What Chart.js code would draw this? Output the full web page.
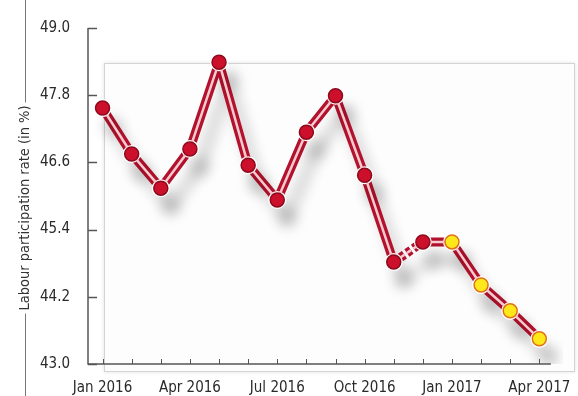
<!DOCTYPE html>
<html>
<head>
<meta charset="utf-8">
<script src="https://cdn.jsdelivr.net/npm/chart.js@4"></script>
<style>
  html, body { margin: 0; padding: 0; background: #fff; }
  #wrap { width: 578px; height: 396px; }
</style>
</head>
<body>
<div id="wrap"><canvas id="chart" width="578" height="396"></canvas></div>
<script>
const months = ["Jan 2016", "Feb 2016", "Mar 2016", "Apr 2016", "May 2016", "Jun 2016", "Jul 2016", "Aug 2016",
    "Sep 2016", "Oct 2016", "Nov 2016", "Dec 2016", "Jan 2017", "Feb 2017", "Mar 2017", "Apr 2017"];
const participation = [47.57, 46.75, 46.14, 46.84, 48.39, 46.55, 45.93, 47.14,
    47.79, 46.37, 44.82, 45.18, 45.18, 44.41, 43.95, 43.45];
const forecastFrom = 12; // Jan 2017 onwards drawn yellow
const yTicks = [43.0, 44.2, 45.4, 46.6, 47.8, 49.0];
const yTitle = "Labour participation rate (in %)";

const FONT = "'DejaVu Sans Condensed', 'DejaVu Sans', sans-serif";

// dashed piece between Nov and Dec 2016
const dashed = ctx => ctx.p0DataIndex === 10 ? [5, 3] : undefined;

const decor = {
    id: 'decor',
    beforeDraw(chart) {
        const c = chart.ctx;
        c.save();
        // light panel behind the plot
        c.shadowColor = 'rgba(0,0,0,0.12)';
        c.shadowBlur = 4;
        c.fillStyle = '#fdfdfd';
        c.fillRect(104, 63, 471, 309);
        c.shadowColor = 'transparent';
        c.strokeStyle = '#d4d4d4';
        c.lineWidth = 1;
        c.strokeRect(104.5, 63.5, 470, 308);
        // long vertical rule behind the title
        c.strokeStyle = '#777';
        c.beginPath();
        c.moveTo(25.5, 0);
        c.lineTo(25.5, 396);
        c.stroke();
        c.restore();
    },
    beforeDatasetDraw(chart, args) {
        if (args.index === 2) {
            const c = chart.ctx;
            c.save();
            c.shadowColor = 'rgba(0,0,0,0.2)';
            c.shadowBlur = 14;
            c.shadowOffsetX = 10;
            c.shadowOffsetY = 18;
        }
    },
    afterDatasetDraw(chart, args) {
        if (args.index === 2) chart.ctx.restore();
    },
    afterDraw(chart) {
        const c = chart.ctx;
        const y = chart.scales.y, x = chart.scales.x;
        const a = chart.chartArea;
        c.save();
        c.strokeStyle = '#555';
        c.lineWidth = 1.5;
        // axes lines
        c.beginPath();
        c.moveTo(a.left, a.top);
        c.lineTo(a.left, a.bottom);
        c.lineTo(a.right - 3, a.bottom);
        c.stroke();
        // y ticks pointing inward
        yTicks.forEach(v => {
            const py = Math.round(y.getPixelForValue(v)) + 0.5;
            c.beginPath();
            c.moveTo(a.left, py);
            c.lineTo(a.left + 9, py);
            c.stroke();
        });
        // small month ticks on x axis
        c.lineWidth = 1;
        months.forEach((m, i) => {
            const px = Math.round(x.getPixelForValue(i)) + 0.5;
            c.beginPath();
            c.moveTo(px, a.bottom);
            c.lineTo(px, a.bottom - 5);
            c.stroke();
        });
        // title over the vertical rule
        c.translate(25, 208);
        c.rotate(-Math.PI / 2);
        c.font = 'normal condensed 14.5px ' + FONT;
        const w = c.measureText(yTitle).width;
        c.fillStyle = '#fff';
        c.fillRect(-w / 2 - 3, -8, w + 6, 16);
        c.fillStyle = '#333';
        c.textAlign = 'center';
        c.textBaseline = 'middle';
        c.fillText(yTitle, 0, 0);
        c.restore();
    }
};

new Chart(document.getElementById('chart'), {
    type: 'line',
    data: {
        labels: months,
        datasets: [
            {
                data: participation,
                order: 0,
                showLine: false,
                pointRadius: 7,
                pointBorderWidth: 1.5,
                pointBackgroundColor: ctx => ctx.dataIndex >= forecastFrom ? '#ffe81a' : '#cc0f2a',
                pointBorderColor: ctx => ctx.dataIndex >= forecastFrom ? '#e0701a' : '#8c0a1c'
            },
            {
                data: participation,
                order: 1,
                borderColor: '#f7c9d0',
                borderWidth: 2.5,
                borderJoinStyle: 'round',
                pointRadius: 0,
                tension: 0,
                segment: { borderDash: dashed }
            },
            {
                data: participation,
                order: 2,
                borderColor: '#b3122c',
                borderWidth: 9,
                borderJoinStyle: 'round',
                pointRadius: 9,
                pointBackgroundColor: '#fff',
                pointBorderWidth: 0,
                tension: 0,
                segment: { borderDash: dashed }
            }
        ]
    },
    options: {
        responsive: false,
        animation: false,
        layout: { padding: { top: 28, right: 22, left: 0, bottom: 0 } },
        plugins: { legend: { display: false }, tooltip: { enabled: false } },
        scales: {
            x: {
                offset: true,
                border: { display: false },
                grid: { display: false },
                afterFit: s => { s.height = 32; },
                ticks: {
                    autoSkip: false,
                    maxRotation: 0,
                    padding: 7,
                    color: '#2a2a2a',
                    font: { family: FONT, size: 15 },
                    callback: (v, i) => i % 3 === 0 ? months[i] : ''
                }
            },
            y: {
                min: 43.0,
                max: 49.0,
                border: { display: false },
                grid: { display: false },
                afterFit: s => { s.width = 88; },
                afterBuildTicks: s => { s.ticks = yTicks.map(v => ({ value: v })); },
                ticks: {
                    padding: 10,
                    color: '#2a2a2a',
                    font: { family: FONT, size: 15 },
                    callback: v => v.toFixed(1)
                }
            }
        }
    },
    plugins: [decor]
});
</script>
</body>
</html>
